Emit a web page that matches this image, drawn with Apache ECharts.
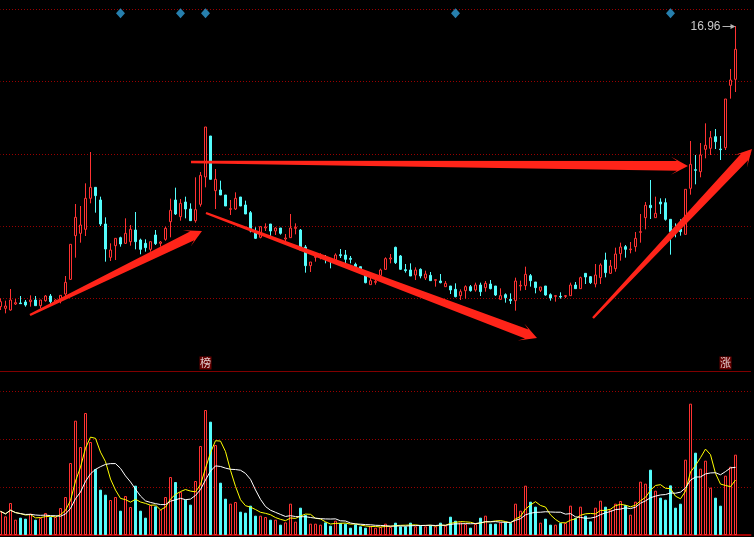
<!DOCTYPE html>
<html>
<head>
<meta charset="utf-8">
<script src="https://cdn.jsdelivr.net/npm/echarts@6/dist/echarts.min.js"></script>
<style>
html,body{margin:0;padding:0;background:#000;}
#c{width:754px;height:537px;}
</style>
</head>
<body>
<div id="c"></div>
<script>
// ---- daily prices ----
const opens = [8.54,8.49,8.44,8.62,8.65,8.68,8.69,8.74,8.57,8.72,8.86,8.68,8.71,8.92,9.36,10.67,10.74,10.86,11.79,12.12,
11.74,11.02,10.02,10.37,10.61,10.44,10.49,10.84,10.54,10.44,10.26,10.69,10.44,10.56,11.09,11.74,11.24,11.68,11.47,11.12,
11.61,12.43,13.66,12.02,12.04,11.89,11.46,11.47,11.83,11.59,11.36,10.79,10.62,10.90,11.02,10.81,10.90,10.57,10.61,10.89,
10.84,10.33,9.77,10.02,10.02,10.03,9.94,9.94,10.10,10.09,9.99,9.81,9.74,9.48,9.20,9.27,9.48,9.66,9.97,10.32,
10.06,9.65,9.64,9.49,9.66,9.40,9.48,9.33,9.31,9.14,9.16,9.06,8.87,9.02,9.14,9.04,9.19,9.11,9.22,9.16,
8.76,8.90,8.76,8.72,9.16,9.17,9.47,9.28,9.03,9.16,8.90,8.85,8.85,8.85,8.87,9.19,9.08,9.54,9.44,9.22,
9.41,9.94,9.54,9.68,10.13,10.34,10.25,10.34,10.77,11.21,11.58,11.21,11.68,11.66,11.16,10.81,10.87,10.71,12.09,12.65,
12.59,13.26,13.29,13.64,13.27,13.31,15.18,15.36];
const closes = [8.69,8.56,8.74,8.66,8.63,8.59,8.74,8.57,8.74,8.86,8.69,8.74,8.88,9.27,10.41,11.22,10.99,11.79,12.12,11.87,
11.02,10.27,10.24,10.59,10.42,10.74,10.86,10.49,10.26,10.31,10.49,10.43,10.48,10.89,11.43,11.32,11.64,11.47,11.12,11.45,
12.48,13.93,12.36,12.36,11.89,11.56,11.48,11.79,11.56,11.32,10.81,10.59,10.94,10.93,10.81,10.90,10.74,10.60,10.90,10.92,
10.24,9.77,9.88,10.05,10.05,10.00,9.89,10.09,10.07,9.96,9.96,9.74,9.62,9.26,9.32,9.30,9.64,9.98,10.00,9.86,
9.66,9.62,9.46,9.64,9.46,9.52,9.32,9.35,9.26,9.24,9.04,8.84,8.99,9.14,9.02,9.19,8.99,9.24,9.08,8.89,
8.87,8.81,8.72,9.31,9.18,9.51,9.32,9.11,9.13,8.89,8.80,8.87,8.83,8.87,9.19,9.08,9.41,9.43,9.26,9.49,
9.79,9.56,9.76,10.12,10.33,10.26,10.27,10.59,10.79,11.58,11.51,11.34,11.62,11.16,10.79,10.77,10.79,12.06,12.81,12.63,
13.09,13.38,13.61,13.49,13.25,14.77,15.34,16.26];
const lows = [8.44,8.34,8.42,8.59,8.62,8.54,8.54,8.57,8.49,8.69,8.62,8.64,8.64,8.84,9.34,10.01,10.46,10.66,11.64,11.36,
10.96,9.89,9.91,9.94,10.34,10.42,10.37,10.26,10.11,10.19,10.19,10.39,10.34,10.52,10.62,11.29,11.12,11.19,11.11,11.06,
11.54,12.12,12.36,11.47,11.89,11.56,11.29,11.44,11.56,11.32,10.77,10.57,10.59,10.81,10.66,10.69,10.70,10.46,10.61,10.71,
10.22,9.56,9.58,9.89,9.96,9.84,9.69,9.82,10.00,9.84,9.84,9.69,9.52,9.24,9.20,9.20,9.44,9.64,9.84,9.82,
9.64,9.56,9.46,9.34,9.39,9.34,9.32,9.14,9.24,9.14,8.92,8.82,8.74,8.78,8.99,8.99,8.86,8.99,9.06,8.86,
8.76,8.66,8.62,8.42,9.02,9.04,9.14,8.94,8.98,8.87,8.72,8.69,8.78,8.80,8.87,9.08,9.08,9.22,9.22,9.12,
9.22,9.42,9.52,9.59,9.92,10.01,10.14,10.19,10.46,10.86,11.17,11.21,11.32,11.12,10.10,10.62,10.67,10.71,11.90,12.21,
12.42,12.99,13.09,13.27,12.94,13.24,14.78,14.98];
const highs = [8.79,8.72,9.07,8.77,8.86,8.74,8.88,8.86,8.74,8.89,8.92,8.76,8.88,9.46,10.41,11.62,11.56,12.24,13.18,12.12,
11.84,11.22,10.44,10.59,10.64,11.19,10.99,11.38,10.58,10.56,10.49,10.84,10.51,10.94,11.78,12.11,11.77,11.84,11.64,12.42,
12.58,13.93,13.66,12.67,12.32,11.89,11.74,11.97,11.83,11.72,11.41,10.92,10.96,11.04,11.02,10.92,10.90,10.72,11.32,11.04,
10.87,10.39,9.88,10.18,10.14,10.09,9.94,10.14,10.27,10.24,10.06,9.86,9.74,9.54,9.44,9.41,9.68,10.02,10.12,10.34,
10.09,9.82,9.84,9.72,9.69,9.62,9.58,9.36,9.52,9.31,9.16,9.24,9.06,9.18,9.19,9.26,9.26,9.31,9.34,9.16,
9.09,8.94,8.94,9.41,9.32,9.74,9.52,9.28,9.13,9.16,8.94,8.89,8.97,8.89,9.26,9.28,9.44,9.54,9.46,9.82,
9.84,10.16,9.94,10.31,10.46,10.39,10.48,10.78,11.32,11.68,12.34,11.84,11.79,11.79,11.16,11.04,11.16,12.06,13.51,13.09,
13.45,14.04,13.81,13.87,13.66,14.77,15.67,16.96];
// ---- daily volume (arbitrary units) ----
const volumes = [71,56,96,46,52,49,64,46,51,66,54,54,81,114,216,343,264,366,279,198,
136,121,105,114,73,117,84,148,73,52,90,86,76,114,174,159,129,106,91,162,
267,375,340,270,157,109,94,99,70,67,88,58,58,54,46,46,31,38,94,40,
82,60,34,34,31,38,28,43,36,34,22,32,26,22,26,22,24,34,24,37,
26,26,37,26,28,26,29,26,37,28,55,43,38,33,22,33,52,58,34,34,
38,38,36,94,73,148,100,85,37,49,31,31,36,36,88,51,85,58,41,82,
103,85,76,94,102,90,61,100,160,154,196,133,112,106,149,82,94,226,394,247,
199,223,142,112,88,178,205,241];
// ---- markers ----
const signalDays = [24, 36, 41, 91, 134];
const tagDays = [41, 145];
const tagTexts = ['榜', '涨'];
// annotation arrows: [fromDay, fromPrice, toDay, toPrice]
const arrows = [
  [5.9, 8.29, 40.3, 10.81],
  [38.1, 12.88, 137.5, 12.76],
  [41.1, 11.35, 107.3, 7.60],
  [118.5, 8.20, 150.3, 13.27]
];
const categories = opens.map((_, i) => 'D' + (i + 1)).concat(['P1', 'P2', 'P3']);

// ---- derived ----
const candleData = opens.map((o, i) => [o, closes[i], lows[i], highs[i]]);
const UP = '#ff3232', DOWN = '#54fcfc';
const volData = volumes.map((v, i) => ({
  value: v,
  itemStyle: closes[i] >= opens[i]
    ? { color: '#000', borderColor: UP, borderWidth: 1 }
    : { color: DOWN, borderColor: DOWN, borderWidth: 1 }
}));
function movingAvg(n) {
  return volumes.map((_, i) => {
    const s = Math.max(0, i - n + 1);
    let sum = 0;
    for (let j = s; j <= i; j++) sum += volumes[j];
    return +(sum / (i - s + 1)).toFixed(2);
  });
}
const ma5 = movingAvg(5), ma10 = movingAvg(10);

const chart = echarts.init(document.getElementById('c'), null, { renderer: 'canvas' });
const gridLine = { show: true, lineStyle: { color: '#9a0000', width: 1, type: [1, 2], dashOffset: 0.5, cap: 'butt' } };
const off = { show: false };
chart.setOption({
  animation: false,
  backgroundColor: '#000',
  grid: [
    { left: 0.5, right: 3.5, top: 9, bottom: 166, outerBoundsMode: 'none', containLabel: false },
    { left: 0.5, right: 3.5, top: 371, bottom: 2, outerBoundsMode: 'none', containLabel: false }
  ],
  xAxis: [
    { type: 'category', gridIndex: 0, data: categories, boundaryGap: false,
      axisLine: { show: true, lineStyle: { color: '#800000', width: 1 } },
      axisTick: off, axisLabel: off, splitLine: off },
    { type: 'category', gridIndex: 1, data: categories, boundaryGap: false,
      axisLine: { show: true, lineStyle: { color: '#a00000', width: 2 } },
      axisTick: off, axisLabel: off, splitLine: off },
    { type: 'value', gridIndex: 0, min: 0, max: categories.length - 1, show: false }
  ],
  yAxis: [
    { type: 'value', gridIndex: 0, min: 6.61, max: 17.47, scale: true,
      axisLine: off, axisTick: off, axisLabel: off, splitLine: off },
    { type: 'value', gridIndex: 0, min: 0, max: 5, interval: 1,
      axisLine: off, axisTick: off, axisLabel: off, splitLine: gridLine },
    { type: 'value', gridIndex: 1, min: 0, max: 492, interval: 144,
      axisLine: off, axisTick: off, axisLabel: off, splitLine: gridLine }
  ],
  series: [
    {
      type: 'candlestick', xAxisIndex: 0, yAxisIndex: 0, data: candleData,
      barWidth: 2, z: 3,
      itemStyle: { color: '#000', color0: DOWN, borderColor: UP, borderColor0: DOWN,
                   borderColorDoji: UP, borderWidth: 1 }
    },
    {
      type: 'scatter', xAxisIndex: 0, yAxisIndex: 0, symbol: 'diamond', symbolSize: [9, 10],
      itemStyle: { color: '#2f9fd8' }, z: 4,
      data: signalDays.map(d => [d, 17.34])
    },
    {
      type: 'scatter', xAxisIndex: 0, yAxisIndex: 0, symbol: 'rect', symbolSize: [12, 13],
      itemStyle: { color: '#800000' }, z: 4,
      data: tagDays.map((d, i) => ({ value: [d, 6.85], name: tagTexts[i] })),
      label: { show: true, position: 'inside', formatter: p => p.name, color: '#fff',
               fontSize: 11, fontFamily: 'Noto Sans CJK SC' }
    },
    {
      type: 'custom', xAxisIndex: 0, yAxisIndex: 0, z: 6,
      data: [[opens.length - 1, highs[highs.length - 1]]],
      renderItem: (params, api) => {
        const p = api.coord([api.value(0), api.value(1)]);
        const y = Math.round(p[1]) + 0.5;
        const x = p[0];
        return { type: 'group', children: [
          { type: 'line', shape: { x1: x - 13, y1: y, x2: x - 3, y2: y },
            style: { stroke: '#b4b4b4', lineWidth: 1 } },
          { type: 'polygon', shape: { points: [[x, y], [x - 5, y - 2.5], [x - 5, y + 2.5]] },
            style: { fill: '#b4b4b4' } },
          { type: 'text', x: x - 15, y: y,
            style: { text: api.value(1).toFixed(2), fill: '#c8c8c8',
                     font: '12px "Liberation Sans", Arial, sans-serif',
                     align: 'right', verticalAlign: 'middle',
                     textAlign: 'right', textVerticalAlign: 'middle' } }
        ] };
      }
    },
    {
      type: 'custom', xAxisIndex: 2, yAxisIndex: 0, z: 8, clip: false,
      data: arrows,
      encode: { x: [0, 2], y: [1, 3] },
      renderItem: (params, api) => {
        const a = api.coord([api.value(0), api.value(1)]);
        const b = api.coord([api.value(2), api.value(3)]);
        const dx = b[0] - a[0], dy = b[1] - a[1], L = Math.hypot(dx, dy);
        const ux = dx / L, uy = dy / L, nx = -uy, ny = ux;
        const pt = (d, w) => [b[0] - ux * d + nx * w, b[1] - uy * d + ny * w];
        const tl = w => [a[0] + nx * w, a[1] + ny * w];
        return { type: 'polygon',
          shape: { points: [tl(1.2), pt(11, 4.8), pt(17, 9), [b[0], b[1]], pt(17, -9), pt(11, -4.8), tl(-1.2)] },
          style: { fill: '#ff2419' } };
      }
    },
    {
      type: 'bar', xAxisIndex: 1, yAxisIndex: 2, data: volData, barWidth: 3, z: 2
    },
    {
      type: 'line', xAxisIndex: 1, yAxisIndex: 2, data: ma5, symbol: 'none', z: 3,
      lineStyle: { color: '#ffff00', width: 1 }
    },
    {
      type: 'line', xAxisIndex: 1, yAxisIndex: 2, data: ma10, symbol: 'none', z: 3,
      lineStyle: { color: '#ffffff', width: 1 }
    }
  ]
});
</script>
</body>
</html>
